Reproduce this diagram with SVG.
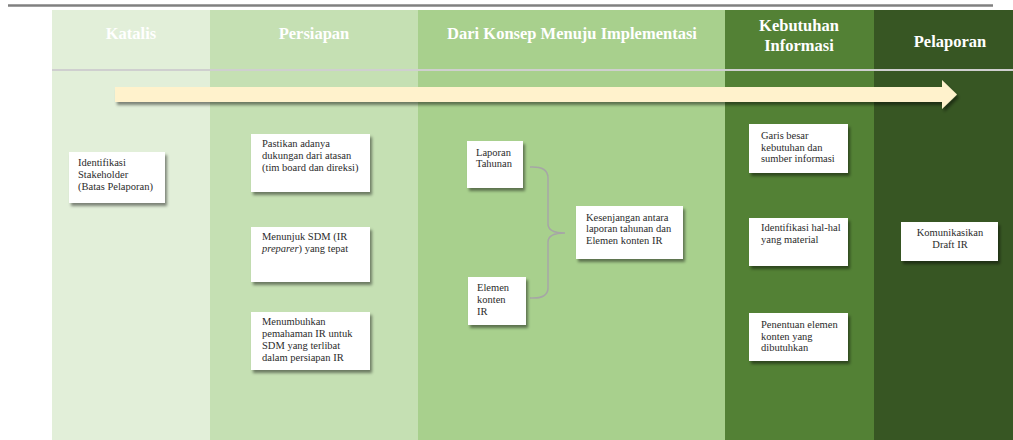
<svg xmlns="http://www.w3.org/2000/svg" width="1013" height="440" viewBox="0 0 1013 440">
<defs>
<filter id="sh" x="-20%" y="-20%" width="140%" height="150%">
<feDropShadow dx="2" dy="3" stdDeviation="1.5" flood-color="#000" flood-opacity="0.45"/>
</filter>
<style>
.hd{font-family:"Liberation Serif","Times New Roman",serif;font-weight:bold;font-size:16.5px;fill:#ffffff;text-anchor:middle}
.bx{fill:#ffffff;filter:url(#sh)}
.tx{font-family:"Liberation Serif","Times New Roman",serif;font-size:10.5px;fill:#2b2b2b}
.sep{stroke:#cfcfcf;stroke-width:2}
</style>
</defs>
<rect width="1013" height="440" fill="#ffffff"/>
<line x1="8" y1="5.5" x2="993" y2="5.5" stroke="#808080" stroke-width="2.5"/>
<g id="panels">
<rect x="52" y="10" width="158" height="430" fill="#e2efd9"/>
<rect x="210" y="10" width="208" height="430" fill="#c5e0b3"/>
<rect x="418" y="10" width="307" height="430" fill="#a8d08d"/>
<rect x="725" y="10" width="149" height="430" fill="#538135"/>
<rect x="874" y="10" width="139" height="430" fill="#375623"/>
<line class="sep" x1="52" y1="70" x2="1013" y2="70"/>
</g>
<g id="headers">
<text class="hd" x="131" y="39">Katalis</text>
<text class="hd" x="314" y="39">Persiapan</text>
<text class="hd" x="572" y="39">Dari Konsep Menuju Implementasi</text>
<text class="hd" x="799" y="31">Kebutuhan</text>
<text class="hd" x="799" y="51">Informasi</text>
<text class="hd" x="950" y="47">Pelaporan</text>
</g>
<g id="timeline-arrow" filter="url(#sh)">
<polygon points="115,87 942,87 942,80 957,94.5 942,109 942,102 115,102" fill="#fff2cc"/>
</g>
<g id="connectors">
<path d="M530,167 Q548,166 548,178 L548,224 Q548,233 565,233 Q548,233 548,242 L548,288 Q548,299 530,298" fill="none" stroke="#a6a6a6" stroke-width="1.5"/>
</g>
<g id="n-identifikasi-stakeholder">
<rect class="bx" x="69" y="152" width="96" height="51"/>
<text class="tx" x="78" y="166">Identifikasi</text>
<text class="tx" x="78" y="178">Stakeholder</text>
<text class="tx" x="78" y="190">(Batas Pelaporan)</text>
</g>
<g id="n-pastikan">
<rect class="bx" x="251" y="134" width="119" height="58"/>
<text class="tx" x="262" y="147">Pastikan adanya</text>
<text class="tx" x="262" y="159">dukungan dari atasan</text>
<text class="tx" x="262" y="171">(tim board dan direksi)</text>
</g>
<g id="n-menunjuk">
<rect class="bx" x="251" y="227" width="119" height="55"/>
<text class="tx" x="262" y="240">Menunjuk SDM (IR</text>
<text class="tx" x="262" y="252"><tspan font-style="italic">preparer</tspan>) yang tepat</text>
</g>
<g id="n-menumbuhkan">
<rect class="bx" x="251" y="312" width="119" height="58"/>
<text class="tx" x="262" y="325">Menumbuhkan</text>
<text class="tx" x="262" y="337">pemahaman IR untuk</text>
<text class="tx" x="262" y="349">SDM yang terlibat</text>
<text class="tx" x="262" y="361">dalam persiapan IR</text>
</g>
<g id="n-laporan-tahunan">
<rect class="bx" x="467" y="141" width="56" height="47"/>
<text class="tx" x="476" y="156">Laporan</text>
<text class="tx" x="476" y="167">Tahunan</text>
</g>
<g id="n-elemen-konten">
<rect class="bx" x="468" y="277" width="58" height="48"/>
<text class="tx" x="477" y="291">Elemen</text>
<text class="tx" x="477" y="303">konten</text>
<text class="tx" x="477" y="315">IR</text>
</g>
<g id="n-kesenjangan">
<rect class="bx" x="576" y="206" width="107" height="53"/>
<text class="tx" x="586" y="221">Kesenjangan antara</text>
<text class="tx" x="586" y="232">laporan tahunan dan</text>
<text class="tx" x="586" y="244">Elemen konten IR</text>
</g>
<g id="n-garis-besar">
<rect class="bx" x="749" y="124" width="99" height="49"/>
<text class="tx" x="761" y="139">Garis besar</text>
<text class="tx" x="761" y="151">kebutuhan dan</text>
<text class="tx" x="761" y="162">sumber informasi</text>
</g>
<g id="n-identifikasi-material">
<rect class="bx" x="749" y="218" width="99" height="48"/>
<text class="tx" x="761" y="231">Identifikasi hal-hal</text>
<text class="tx" x="761" y="243">yang material</text>
</g>
<g id="n-penentuan">
<rect class="bx" x="749" y="313" width="99" height="48"/>
<text class="tx" x="761" y="328">Penentuan elemen</text>
<text class="tx" x="761" y="340">konten yang</text>
<text class="tx" x="761" y="351">dibutuhkan</text>
</g>
<g id="n-komunikasikan">
<rect class="bx" x="901" y="222" width="97" height="39"/>
<text class="tx" x="950" y="236" text-anchor="middle">Komunikasikan</text>
<text class="tx" x="950" y="248" text-anchor="middle">Draft IR</text>
</g>
</svg>
